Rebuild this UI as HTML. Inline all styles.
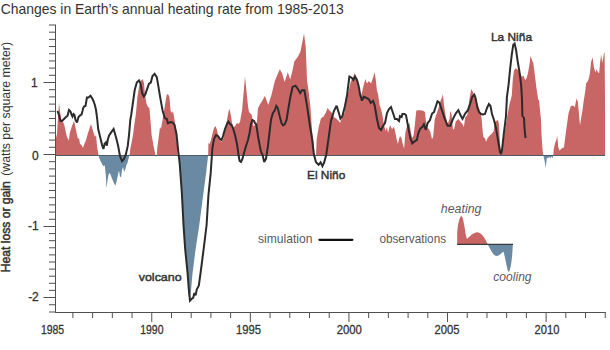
<!DOCTYPE html>
<html><head><meta charset="utf-8"><style>
html,body{margin:0;padding:0;background:#fff;width:610px;height:350px;overflow:hidden}
svg{display:block}
text{font-family:"Liberation Sans",sans-serif;fill:#333}
</style></head><body>
<svg width="610" height="350" viewBox="0 0 610 350">
<defs>
<clipPath id="up"><rect x="0" y="0" width="610" height="155.0"/></clipPath>
<clipPath id="dn"><rect x="0" y="155.0" width="610" height="200"/></clipPath>
</defs>
<path d="M56.0,155.0 L56.0,138.0 L57.0,134.0 L58.0,118.0 L59.0,102.5 L60.0,111.0 L61.0,118.0 L62.0,121.0 L63.0,122.0 L64.0,124.0 L65.0,128.0 L66.0,133.0 L67.0,137.0 L68.9,140.5 L69.6,134.0 L71.0,129.0 L72.4,125.0 L74.0,121.0 L75.0,125.0 L76.0,130.0 L77.0,135.0 L78.0,139.0 L79.0,138.0 L80.0,144.0 L81.6,145.0 L83.0,148.0 L84.0,145.0 L86.0,140.0 L88.0,133.0 L90.0,127.0 L91.0,124.0 L92.4,129.0 L94.0,134.0 L95.0,137.0 L96.0,135.0 L97.0,146.0 L98.0,152.0 L98.4,155.0 L99.6,159.1 L101.3,162.6 L102.8,165.4 L104.1,166.0 L104.7,164.9 L105.9,176.3 L106.4,188.3 L107.6,179.7 L108.7,174.0 L109.9,172.9 L111.6,177.4 L113.9,183.1 L115.3,185.7 L116.7,180.9 L117.9,175.1 L119.0,170.6 L119.9,176.3 L121.1,177.4 L121.9,170.6 L123.0,167.1 L124.1,171.7 L125.3,169.4 L126.4,164.9 L127.6,162.6 L128.7,158.0 L129.6,155.0 L130.4,148.6 L132.5,137.9 L133.0,135.0 L134.0,127.0 L136.0,113.0 L137.4,97.0 L139.0,87.0 L140.6,81.0 L142.6,79.0 L144.0,83.0 L145.0,95.0 L146.6,104.0 L148.0,107.0 L149.4,108.0 L150.0,115.0 L151.0,127.0 L151.6,135.0 L152.5,140.0 L154.0,148.6 L155.5,155.0 L156.1,157.2 L156.8,155.0 L157.2,148.6 L158.3,140.0 L159.0,135.0 L160.0,127.0 L161.0,129.0 L163.0,117.0 L165.0,105.0 L166.6,95.0 L168.0,94.0 L169.4,97.0 L170.6,111.0 L172.0,113.0 L173.0,111.0 L174.0,117.0 L175.0,123.0 L176.0,131.0 L176.8,140.0 L177.6,155.0 L179.1,155.5 L179.7,163.6 L180.8,178.6 L181.9,193.7 L183.5,225.0 L185.2,249.3 L187.6,273.5 L189.1,293.0 L190.0,300.7 L190.8,293.0 L192.5,273.5 L195.6,249.3 L199.3,225.0 L203.1,195.7 L206.1,172.9 L208.2,155.0 L208.4,143.0 L209.6,144.0 L211.0,140.0 L212.4,134.0 L214.0,128.0 L215.6,126.0 L217.0,130.0 L218.4,137.0 L220.0,140.0 L221.6,142.0 L223.0,140.0 L225.0,130.0 L227.0,120.0 L228.4,112.0 L229.6,109.0 L231.0,116.0 L232.0,123.0 L233.0,128.0 L235.0,126.0 L237.0,123.0 L238.4,124.0 L240.0,122.0 L241.0,116.0 L242.1,110.0 L245.0,76.5 L248.0,106.0 L249.0,112.0 L250.0,113.0 L251.8,115.1 L253.4,126.6 L255.7,124.3 L256.9,122.0 L258.0,108.3 L260.3,103.7 L262.6,100.3 L264.9,95.7 L266.5,100.3 L268.3,104.9 L270.1,99.1 L271.3,95.4 L274.9,80.8 L279.8,69.2 L282.2,73.5 L284.6,82.0 L287.8,72.3 L290.2,79.6 L292.6,69.9 L294.3,61.4 L298.0,56.6 L300.4,51.7 L304.0,33.5 L305.7,46.8 L307.0,80.0 L308.8,92.9 L310.3,105.7 L312.1,131.4 L313.9,144.3 L314.4,155.0 L315.6,156.5 L316.0,155.0 L316.7,139.0 L318.6,127.5 L320.9,118.4 L323.6,116.5 L325.9,112.6 L327.5,108.0 L329.3,110.3 L331.6,112.6 L333.9,117.2 L336.2,118.4 L338.5,120.7 L340.1,123.0 L342.0,117.2 L344.3,113.8 L346.0,101.0 L348.3,92.6 L350.6,82.3 L352.9,77.7 L354.7,73.1 L356.3,77.7 L358.6,84.6 L360.9,97.1 L362.0,92.6 L363.8,84.6 L365.4,78.9 L367.0,83.4 L368.9,81.1 L371.1,83.4 L373.4,76.6 L374.6,72.0 L375.7,78.9 L376.9,90.3 L378.0,94.0 L379.6,105.0 L381.0,109.0 L382.4,115.0 L384.0,125.0 L385.6,131.0 L387.0,127.0 L388.0,133.0 L389.0,129.0 L390.0,125.0 L392.0,129.0 L394.0,127.0 L395.0,131.0 L397.0,141.0 L398.0,144.0 L399.0,139.0 L400.0,136.0 L401.4,137.9 L402.7,143.4 L404.1,148.8 L405.4,132.5 L406.8,127.1 L408.2,124.3 L409.5,123.0 L410.9,132.5 L412.2,137.9 L413.6,135.2 L414.9,124.3 L416.3,110.8 L417.7,110.2 L420.4,110.2 L423.1,110.8 L425.0,112.1 L425.8,120.3 L427.2,127.1 L429.3,129.8 L430.4,132.5 L432.1,139.3 L433.2,136.6 L434.8,118.9 L436.7,113.5 L439.4,105.3 L440.8,99.9 L442.1,97.2 L442.9,93.9 L444.0,105.3 L445.7,116.2 L447.6,124.3 L449.5,118.9 L450.3,110.8 L451.6,114.8 L453.0,129.8 L454.3,128.4 L455.7,121.6 L458.4,118.9 L460.3,121.6 L462.5,124.3 L463.9,127.1 L465.2,117.6 L467.4,114.8 L469.3,99.9 L471.2,89.0 L472.8,91.7 L474.7,97.2 L476.4,102.6 L479.0,107.7 L480.3,112.9 L481.6,118.0 L482.2,125.7 L482.9,133.5 L483.5,137.3 L484.8,138.0 L486.1,141.8 L487.4,138.6 L489.3,136.0 L491.9,133.5 L493.8,130.9 L494.5,122.5 L495.7,121.2 L497.0,120.6 L498.1,119.9 L499.0,124.5 L500.0,144.0 L501.0,154.0 L502.0,148.0 L504.0,136.0 L506.0,124.0 L508.0,112.0 L510.0,102.0 L510.8,100.0 L511.8,95.1 L512.9,77.9 L514.0,70.4 L515.5,68.3 L517.2,69.3 L518.9,71.5 L520.4,73.6 L521.9,76.8 L523.6,75.8 L524.7,79.0 L525.8,80.1 L526.9,76.8 L527.9,73.6 L529.7,62.9 L530.5,55.4 L532.2,60.8 L533.3,62.9 L534.4,71.5 L536.5,88.6 L538.2,99.4 L539.0,100.0 L540.0,110.0 L541.0,120.0 L541.6,136.0 L542.4,148.0 L543.2,155.0 L544.6,160.9 L545.7,167.8 L546.9,157.5 L548.0,158.6 L549.2,156.4 L550.3,158.6 L551.4,156.4 L552.6,158.2 L553.3,155.0 L553.7,149.5 L554.9,143.8 L556.5,139.2 L557.2,135.8 L558.3,147.2 L559.5,150.6 L561.7,148.4 L564.0,147.2 L566.3,128.9 L568.6,112.9 L570.9,106.0 L573.2,105.6 L574.8,107.2 L576.5,98.5 L577.8,101.4 L578.9,112.9 L580.0,125.5 L581.6,115.2 L582.5,110.0 L583.6,101.5 L585.3,90.8 L586.2,83.3 L587.9,81.1 L589.0,77.9 L590.0,72.6 L591.1,61.8 L592.6,57.5 L593.9,67.2 L595.4,72.6 L596.5,69.3 L597.6,71.5 L599.1,73.6 L600.3,60.8 L601.2,54.3 L602.3,62.9 L604.0,53.2 L604.6,52.2 L605.1,110.0 L605.1,155.0 Z" fill="#c86565" clip-path="url(#up)"/>
<path d="M56.0,155.0 L56.0,138.0 L57.0,134.0 L58.0,118.0 L59.0,102.5 L60.0,111.0 L61.0,118.0 L62.0,121.0 L63.0,122.0 L64.0,124.0 L65.0,128.0 L66.0,133.0 L67.0,137.0 L68.9,140.5 L69.6,134.0 L71.0,129.0 L72.4,125.0 L74.0,121.0 L75.0,125.0 L76.0,130.0 L77.0,135.0 L78.0,139.0 L79.0,138.0 L80.0,144.0 L81.6,145.0 L83.0,148.0 L84.0,145.0 L86.0,140.0 L88.0,133.0 L90.0,127.0 L91.0,124.0 L92.4,129.0 L94.0,134.0 L95.0,137.0 L96.0,135.0 L97.0,146.0 L98.0,152.0 L98.4,155.0 L99.6,159.1 L101.3,162.6 L102.8,165.4 L104.1,166.0 L104.7,164.9 L105.9,176.3 L106.4,188.3 L107.6,179.7 L108.7,174.0 L109.9,172.9 L111.6,177.4 L113.9,183.1 L115.3,185.7 L116.7,180.9 L117.9,175.1 L119.0,170.6 L119.9,176.3 L121.1,177.4 L121.9,170.6 L123.0,167.1 L124.1,171.7 L125.3,169.4 L126.4,164.9 L127.6,162.6 L128.7,158.0 L129.6,155.0 L130.4,148.6 L132.5,137.9 L133.0,135.0 L134.0,127.0 L136.0,113.0 L137.4,97.0 L139.0,87.0 L140.6,81.0 L142.6,79.0 L144.0,83.0 L145.0,95.0 L146.6,104.0 L148.0,107.0 L149.4,108.0 L150.0,115.0 L151.0,127.0 L151.6,135.0 L152.5,140.0 L154.0,148.6 L155.5,155.0 L156.1,157.2 L156.8,155.0 L157.2,148.6 L158.3,140.0 L159.0,135.0 L160.0,127.0 L161.0,129.0 L163.0,117.0 L165.0,105.0 L166.6,95.0 L168.0,94.0 L169.4,97.0 L170.6,111.0 L172.0,113.0 L173.0,111.0 L174.0,117.0 L175.0,123.0 L176.0,131.0 L176.8,140.0 L177.6,155.0 L179.1,155.5 L179.7,163.6 L180.8,178.6 L181.9,193.7 L183.5,225.0 L185.2,249.3 L187.6,273.5 L189.1,293.0 L190.0,300.7 L190.8,293.0 L192.5,273.5 L195.6,249.3 L199.3,225.0 L203.1,195.7 L206.1,172.9 L208.2,155.0 L208.4,143.0 L209.6,144.0 L211.0,140.0 L212.4,134.0 L214.0,128.0 L215.6,126.0 L217.0,130.0 L218.4,137.0 L220.0,140.0 L221.6,142.0 L223.0,140.0 L225.0,130.0 L227.0,120.0 L228.4,112.0 L229.6,109.0 L231.0,116.0 L232.0,123.0 L233.0,128.0 L235.0,126.0 L237.0,123.0 L238.4,124.0 L240.0,122.0 L241.0,116.0 L242.1,110.0 L245.0,76.5 L248.0,106.0 L249.0,112.0 L250.0,113.0 L251.8,115.1 L253.4,126.6 L255.7,124.3 L256.9,122.0 L258.0,108.3 L260.3,103.7 L262.6,100.3 L264.9,95.7 L266.5,100.3 L268.3,104.9 L270.1,99.1 L271.3,95.4 L274.9,80.8 L279.8,69.2 L282.2,73.5 L284.6,82.0 L287.8,72.3 L290.2,79.6 L292.6,69.9 L294.3,61.4 L298.0,56.6 L300.4,51.7 L304.0,33.5 L305.7,46.8 L307.0,80.0 L308.8,92.9 L310.3,105.7 L312.1,131.4 L313.9,144.3 L314.4,155.0 L315.6,156.5 L316.0,155.0 L316.7,139.0 L318.6,127.5 L320.9,118.4 L323.6,116.5 L325.9,112.6 L327.5,108.0 L329.3,110.3 L331.6,112.6 L333.9,117.2 L336.2,118.4 L338.5,120.7 L340.1,123.0 L342.0,117.2 L344.3,113.8 L346.0,101.0 L348.3,92.6 L350.6,82.3 L352.9,77.7 L354.7,73.1 L356.3,77.7 L358.6,84.6 L360.9,97.1 L362.0,92.6 L363.8,84.6 L365.4,78.9 L367.0,83.4 L368.9,81.1 L371.1,83.4 L373.4,76.6 L374.6,72.0 L375.7,78.9 L376.9,90.3 L378.0,94.0 L379.6,105.0 L381.0,109.0 L382.4,115.0 L384.0,125.0 L385.6,131.0 L387.0,127.0 L388.0,133.0 L389.0,129.0 L390.0,125.0 L392.0,129.0 L394.0,127.0 L395.0,131.0 L397.0,141.0 L398.0,144.0 L399.0,139.0 L400.0,136.0 L401.4,137.9 L402.7,143.4 L404.1,148.8 L405.4,132.5 L406.8,127.1 L408.2,124.3 L409.5,123.0 L410.9,132.5 L412.2,137.9 L413.6,135.2 L414.9,124.3 L416.3,110.8 L417.7,110.2 L420.4,110.2 L423.1,110.8 L425.0,112.1 L425.8,120.3 L427.2,127.1 L429.3,129.8 L430.4,132.5 L432.1,139.3 L433.2,136.6 L434.8,118.9 L436.7,113.5 L439.4,105.3 L440.8,99.9 L442.1,97.2 L442.9,93.9 L444.0,105.3 L445.7,116.2 L447.6,124.3 L449.5,118.9 L450.3,110.8 L451.6,114.8 L453.0,129.8 L454.3,128.4 L455.7,121.6 L458.4,118.9 L460.3,121.6 L462.5,124.3 L463.9,127.1 L465.2,117.6 L467.4,114.8 L469.3,99.9 L471.2,89.0 L472.8,91.7 L474.7,97.2 L476.4,102.6 L479.0,107.7 L480.3,112.9 L481.6,118.0 L482.2,125.7 L482.9,133.5 L483.5,137.3 L484.8,138.0 L486.1,141.8 L487.4,138.6 L489.3,136.0 L491.9,133.5 L493.8,130.9 L494.5,122.5 L495.7,121.2 L497.0,120.6 L498.1,119.9 L499.0,124.5 L500.0,144.0 L501.0,154.0 L502.0,148.0 L504.0,136.0 L506.0,124.0 L508.0,112.0 L510.0,102.0 L510.8,100.0 L511.8,95.1 L512.9,77.9 L514.0,70.4 L515.5,68.3 L517.2,69.3 L518.9,71.5 L520.4,73.6 L521.9,76.8 L523.6,75.8 L524.7,79.0 L525.8,80.1 L526.9,76.8 L527.9,73.6 L529.7,62.9 L530.5,55.4 L532.2,60.8 L533.3,62.9 L534.4,71.5 L536.5,88.6 L538.2,99.4 L539.0,100.0 L540.0,110.0 L541.0,120.0 L541.6,136.0 L542.4,148.0 L543.2,155.0 L544.6,160.9 L545.7,167.8 L546.9,157.5 L548.0,158.6 L549.2,156.4 L550.3,158.6 L551.4,156.4 L552.6,158.2 L553.3,155.0 L553.7,149.5 L554.9,143.8 L556.5,139.2 L557.2,135.8 L558.3,147.2 L559.5,150.6 L561.7,148.4 L564.0,147.2 L566.3,128.9 L568.6,112.9 L570.9,106.0 L573.2,105.6 L574.8,107.2 L576.5,98.5 L577.8,101.4 L578.9,112.9 L580.0,125.5 L581.6,115.2 L582.5,110.0 L583.6,101.5 L585.3,90.8 L586.2,83.3 L587.9,81.1 L589.0,77.9 L590.0,72.6 L591.1,61.8 L592.6,57.5 L593.9,67.2 L595.4,72.6 L596.5,69.3 L597.6,71.5 L599.1,73.6 L600.3,60.8 L601.2,54.3 L602.3,62.9 L604.0,53.2 L604.6,52.2 L605.1,110.0 L605.1,155.0 Z" fill="#6a89a3" clip-path="url(#dn)"/>
<line x1="56" y1="155.5" x2="605" y2="155.5" stroke="#4f5b66" stroke-width="1"/>
<g stroke="#505050" stroke-width="1">
<line x1="49" y1="312.00" x2="56" y2="312.00"/><line x1="49" y1="304.75" x2="56" y2="304.75"/><line x1="43.5" y1="297.50" x2="56" y2="297.50"/><line x1="49" y1="290.40" x2="56" y2="290.40"/><line x1="49" y1="283.30" x2="56" y2="283.30"/><line x1="49" y1="276.20" x2="56" y2="276.20"/><line x1="49" y1="269.10" x2="56" y2="269.10"/><line x1="49" y1="262.00" x2="56" y2="262.00"/><line x1="49" y1="254.90" x2="56" y2="254.90"/><line x1="49" y1="247.80" x2="56" y2="247.80"/><line x1="49" y1="240.70" x2="56" y2="240.70"/><line x1="49" y1="233.60" x2="56" y2="233.60"/><line x1="43.5" y1="226.50" x2="56" y2="226.50"/><line x1="49" y1="219.30" x2="56" y2="219.30"/><line x1="49" y1="212.10" x2="56" y2="212.10"/><line x1="49" y1="204.90" x2="56" y2="204.90"/><line x1="49" y1="197.70" x2="56" y2="197.70"/><line x1="49" y1="190.50" x2="56" y2="190.50"/><line x1="49" y1="183.30" x2="56" y2="183.30"/><line x1="49" y1="176.10" x2="56" y2="176.10"/><line x1="49" y1="168.90" x2="56" y2="168.90"/><line x1="49" y1="161.70" x2="56" y2="161.70"/><line x1="43.5" y1="154.50" x2="56" y2="154.50"/><line x1="49" y1="147.30" x2="56" y2="147.30"/><line x1="49" y1="140.10" x2="56" y2="140.10"/><line x1="49" y1="132.90" x2="56" y2="132.90"/><line x1="49" y1="125.70" x2="56" y2="125.70"/><line x1="49" y1="118.50" x2="56" y2="118.50"/><line x1="49" y1="111.30" x2="56" y2="111.30"/><line x1="49" y1="104.10" x2="56" y2="104.10"/><line x1="49" y1="96.90" x2="56" y2="96.90"/><line x1="49" y1="89.70" x2="56" y2="89.70"/><line x1="43.5" y1="82.50" x2="56" y2="82.50"/><line x1="49" y1="75.31" x2="56" y2="75.31"/><line x1="49" y1="68.12" x2="56" y2="68.12"/><line x1="49" y1="60.94" x2="56" y2="60.94"/><line x1="49" y1="53.75" x2="56" y2="53.75"/><line x1="49" y1="46.56" x2="56" y2="46.56"/><line x1="49" y1="39.38" x2="56" y2="39.38"/><line x1="49" y1="32.19" x2="56" y2="32.19"/><line x1="49" y1="25.00" x2="56" y2="25.00"/><line x1="72.90" y1="312" x2="72.90" y2="318"/><line x1="92.62" y1="312" x2="92.62" y2="318"/><line x1="112.33" y1="312" x2="112.33" y2="318"/><line x1="132.05" y1="312" x2="132.05" y2="318"/><line x1="151.77" y1="312" x2="151.77" y2="322"/><line x1="171.49" y1="312" x2="171.49" y2="318"/><line x1="191.20" y1="312" x2="191.20" y2="318"/><line x1="210.92" y1="312" x2="210.92" y2="318"/><line x1="230.64" y1="312" x2="230.64" y2="318"/><line x1="250.35" y1="312" x2="250.35" y2="322"/><line x1="270.07" y1="312" x2="270.07" y2="318"/><line x1="289.79" y1="312" x2="289.79" y2="318"/><line x1="309.50" y1="312" x2="309.50" y2="318"/><line x1="329.22" y1="312" x2="329.22" y2="318"/><line x1="348.94" y1="312" x2="348.94" y2="322"/><line x1="368.65" y1="312" x2="368.65" y2="318"/><line x1="388.37" y1="312" x2="388.37" y2="318"/><line x1="408.09" y1="312" x2="408.09" y2="318"/><line x1="427.81" y1="312" x2="427.81" y2="318"/><line x1="447.52" y1="312" x2="447.52" y2="322"/><line x1="467.24" y1="312" x2="467.24" y2="318"/><line x1="486.96" y1="312" x2="486.96" y2="318"/><line x1="506.67" y1="312" x2="506.67" y2="318"/><line x1="526.39" y1="312" x2="526.39" y2="318"/><line x1="546.11" y1="312" x2="546.11" y2="322"/><line x1="565.82" y1="312" x2="565.82" y2="318"/><line x1="585.54" y1="312" x2="585.54" y2="318"/><line x1="605.26" y1="312" x2="605.26" y2="318"/>
<line x1="55.5" y1="25" x2="55.5" y2="312.5"/>
<line x1="55" y1="312.5" x2="605.5" y2="312.5"/>
</g>
<path d="M57.5,111.0 L59.0,115.0 L60.5,121.0 L62.0,121.0 L64.0,119.0 L66.0,117.0 L67.5,116.0 L69.0,110.0 L70.5,111.5 L71.5,114.5 L72.5,116.5 L73.5,114.0 L74.5,115.0 L75.5,120.0 L77.0,122.5 L78.5,117.0 L80.0,115.5 L81.5,114.5 L82.5,111.0 L83.2,108.0 L84.0,106.5 L85.5,106.0 L86.5,100.0 L87.0,97.5 L88.5,97.5 L90.5,95.8 L92.0,98.0 L93.5,101.0 L95.0,105.5 L96.0,110.0 L96.7,115.0 L97.3,120.0 L98.2,129.0 L100.1,136.7 L102.1,145.1 L103.4,148.9 L104.6,143.8 L105.9,142.5 L106.8,145.7 L107.9,139.3 L109.1,135.4 L111.7,131.6 L113.6,129.0 L116.2,138.0 L118.1,145.7 L120.0,156.0 L122.0,161.1 L123.9,159.2 L125.8,154.7 L127.8,145.7 L129.1,134.1 L130.3,120.0 L131.2,115.0 L133.3,100.0 L134.7,90.0 L136.8,82.5 L139.0,80.4 L140.5,83.6 L142.2,93.3 L143.9,96.5 L145.4,94.3 L147.5,87.9 L149.0,83.6 L150.8,82.5 L152.5,76.1 L154.6,73.9 L156.8,77.2 L158.3,85.8 L160.4,98.6 L162.6,110.4 L164.7,117.9 L166.8,119.0 L167.9,123.3 L170.1,122.2 L172.2,122.2 L174.4,124.4 L176.5,134.0 L178.2,150.8 L179.7,163.6 L180.8,178.6 L181.9,193.7 L183.5,225.0 L185.2,249.3 L187.6,273.5 L189.1,293.0 L190.0,300.7 L191.5,299.0 L193.2,297.8 L194.4,293.0 L195.6,295.4 L196.8,289.3 L198.8,285.7 L200.5,273.5 L203.6,249.3 L206.6,225.0 L208.4,195.7 L210.7,172.9 L212.4,148.0 L214.0,139.0 L216.0,135.0 L218.0,136.0 L220.0,139.0 L221.6,140.0 L223.0,136.0 L225.0,129.0 L227.0,124.0 L228.4,121.6 L230.0,124.0 L231.6,125.0 L233.0,128.0 L235.0,135.0 L237.0,144.0 L238.4,154.0 L239.6,161.0 L241.0,162.0 L242.4,159.0 L244.0,153.0 L246.0,146.0 L248.0,140.0 L249.6,133.0 L251.0,124.0 L252.4,120.0 L254.0,121.0 L255.0,123.0 L256.4,125.0 L258.0,136.0 L259.6,144.9 L261.0,151.7 L262.6,155.1 L264.2,162.0 L266.0,158.6 L267.8,147.1 L269.4,133.4 L271.0,119.7 L272.9,112.9 L274.7,110.6 L276.3,106.0 L277.9,108.3 L279.7,116.3 L281.5,123.1 L283.1,125.4 L284.7,124.3 L286.6,119.7 L288.4,108.3 L290.2,97.8 L292.6,86.9 L295.5,85.7 L298.0,89.3 L300.2,93.0 L302.0,90.3 L304.4,90.3 L307.0,105.7 L309.6,123.7 L312.1,139.1 L313.9,154.5 L316.0,162.3 L318.6,164.8 L320.6,162.3 L322.4,166.1 L324.2,162.3 L326.3,154.5 L328.8,136.6 L330.9,121.1 L334.0,110.8 L336.6,105.7 L338.6,112.1 L340.4,118.6 L342.4,116.0 L344.9,106.3 L347.1,94.9 L349.4,76.6 L351.7,77.7 L353.3,80.0 L355.1,76.6 L357.0,80.0 L358.6,85.7 L360.2,94.9 L362.0,100.6 L363.8,96.7 L366.1,97.6 L368.9,99.4 L370.7,102.9 L373.0,101.0 L374.6,105.1 L377.0,119.0 L379.0,128.0 L381.0,130.0 L383.0,126.0 L385.0,123.0 L387.0,113.0 L389.0,109.0 L391.0,107.0 L393.0,113.0 L395.0,119.0 L397.0,119.0 L399.0,121.0 L400.0,116.0 L401.6,117.0 L402.4,114.0 L404.4,114.0 L406.0,115.0 L408.2,127.1 L410.3,137.9 L412.2,143.4 L414.9,141.2 L416.8,140.1 L418.5,132.5 L420.4,128.4 L422.3,127.1 L423.9,124.3 L425.8,129.8 L427.7,123.0 L429.9,120.3 L432.1,113.5 L434.0,112.1 L435.3,108.0 L437.5,101.3 L439.4,102.6 L442.1,110.8 L444.8,118.9 L447.6,125.7 L450.3,125.7 L453.0,118.9 L455.7,113.5 L458.4,110.2 L460.3,114.8 L462.5,118.9 L465.2,113.5 L467.9,110.2 L470.1,104.0 L472.1,97.2 L474.3,94.7 L475.4,97.2 L477.5,108.0 L479.0,112.0 L481.0,114.0 L483.0,114.4 L485.0,114.0 L487.0,108.0 L488.9,104.1 L490.4,105.8 L492.0,114.0 L494.0,120.0 L496.0,128.0 L498.0,140.0 L500.0,152.0 L501.0,154.0 L502.0,150.0 L504.0,132.0 L506.0,116.0 L506.9,97.2 L508.6,84.4 L510.3,67.2 L511.8,54.3 L513.3,44.7 L514.6,43.6 L516.1,50.0 L517.6,60.8 L519.4,71.5 L521.1,84.4 L521.9,97.2 L522.4,116.0 L524.0,118.0 L524.4,126.0 L525.0,134.0 L525.6,138.0" fill="none" stroke="#2b2b2b" stroke-width="2" stroke-linejoin="miter" stroke-miterlimit="2.5" stroke-linecap="butt"/>
<text x="0.7" y="13.9" font-size="13.9" textLength="343" lengthAdjust="spacingAndGlyphs">Changes in Earth’s annual heating rate from 1985-2013</text>
<g font-size="12" text-anchor="end" style="stroke:#333;stroke-width:0.3">
<text x="37.6" y="86.8">1</text>
<text x="38.6" y="159.8">0</text>
<text x="38.6" y="230.1">-1</text>
<text x="38.8" y="300.8">-2</text>
</g>
<g font-size="12.4" style="stroke:#333;stroke-width:0.3">
<text x="40.9" y="334.4" textLength="23.3" lengthAdjust="spacingAndGlyphs">1985</text>
<text x="140.2" y="334.4" textLength="23.3" lengthAdjust="spacingAndGlyphs">1990</text>
<text x="236" y="334.4" textLength="25" lengthAdjust="spacingAndGlyphs">1995</text>
<text x="336.7" y="334.4" textLength="25.2" lengthAdjust="spacingAndGlyphs">2000</text>
<text x="434.6" y="334.4" textLength="25" lengthAdjust="spacingAndGlyphs">2005</text>
<text x="534.6" y="334.4" textLength="24.8" lengthAdjust="spacingAndGlyphs">2010</text>
</g>
<text transform="translate(10,272.2) rotate(-90)" font-size="12.6" style="stroke:#333;stroke-width:0.5" textLength="91" lengthAdjust="spacingAndGlyphs">Heat loss or gain</text>
<text transform="translate(10,175.8) rotate(-90)" font-size="12.4" textLength="133.8" lengthAdjust="spacingAndGlyphs">(watts per square meter)</text>
<g font-size="11.8" style="stroke:#333;stroke-width:0.45">
<text x="491" y="41" textLength="41" lengthAdjust="spacingAndGlyphs">La Niña</text>
<text x="307" y="178.5" textLength="38.3" lengthAdjust="spacingAndGlyphs">El Niño</text>
<text x="138.7" y="281.1" textLength="43" lengthAdjust="spacingAndGlyphs">volcano</text>
</g>
<g font-size="12.2">
<text x="258" y="242.6" textLength="54.5" lengthAdjust="spacingAndGlyphs" style="fill:#5a5a5a">simulation</text>
<text x="379.4" y="243" textLength="66.7" lengthAdjust="spacingAndGlyphs" style="fill:#5a5a5a">observations</text>
<text x="440.8" y="212.7" font-style="italic" textLength="40.7" lengthAdjust="spacingAndGlyphs" style="fill:#5a5a5a">heating</text>
<text x="493.3" y="281" font-style="italic" textLength="38.3" lengthAdjust="spacingAndGlyphs" style="fill:#5a5a5a">cooling</text>
</g>
<line x1="319.5" y1="239.8" x2="352.3" y2="239.8" stroke="#111" stroke-width="2.3" stroke-linecap="round"/>
<path d="M457.2,244 L457.2,234 C457.4,226 459.6,216 461.4,216 C463.6,216 465,233 467,239 C470,236 474,232.3 477.1,232.3 C481,232.3 485,238 487.5,244 Z" fill="#c86565"/>
<path d="M487.5,244 C490,248 493,256 496.6,256 C499.5,256 502,252 503.5,251.8 C505.5,258 507.3,271.8 508.7,271.8 C510.7,271.8 512.6,255 512.8,244 Z" fill="#6a89a3"/>
<line x1="457" y1="244.3" x2="513" y2="244.3" stroke="#3a3a3a" stroke-width="1.3"/>
</svg>
</body></html>
